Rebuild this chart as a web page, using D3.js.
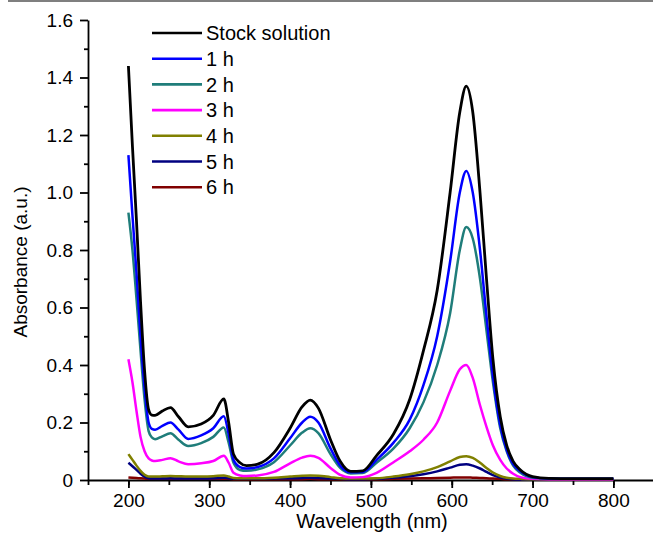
<!DOCTYPE html>
<html>
<head>
<meta charset="utf-8">
<script src="https://cdn.jsdelivr.net/npm/d3@7"></script>
<style>
  body { margin: 0; background: #fff; }
  svg { display: block; font-family: "Liberation Sans", Arial, sans-serif; }
  .axis path, .axis line { stroke: #000; stroke-width: 1.8; }
  .axis text { font-size: 19px; fill: #000; }
</style>
</head>
<body>
<svg id="chart" width="653" height="533"></svg>
<script>
// wavelength grid (nm)
let wavelength = [200, 205, 210, 215, 220, 225, 229, 233, 242, 252, 262, 274, 290, 305, 318, 324, 330, 338, 346, 360,
  380, 400, 415, 425, 435, 450, 462, 475, 490, 507, 528, 548, 565, 582, 598, 610, 618, 626, 635, 643,
  651, 660, 668, 676, 685, 700, 720, 750, 800]

let stock = [1.44, 1.16, 0.90, 0.62, 0.38, 0.245, 0.226, 0.225, 0.24, 0.252, 0.22, 0.185, 0.195, 0.225, 0.282, 0.20, 0.09, 0.06, 0.05, 0.055,
  0.095, 0.18, 0.255, 0.278, 0.25, 0.14, 0.065, 0.03, 0.032, 0.085, 0.16, 0.28, 0.45, 0.66, 1.00, 1.28, 1.37, 1.28, 1.00, 0.70,
  0.42, 0.22, 0.12, 0.065, 0.035, 0.012, 0.006, 0.005, 0.005]

let h1 = [1.13, 0.92, 0.72, 0.50, 0.32, 0.20, 0.178, 0.175, 0.188, 0.20, 0.175, 0.143, 0.155, 0.18, 0.222, 0.16, 0.07, 0.045, 0.04, 0.045,
  0.075, 0.145, 0.20, 0.22, 0.20, 0.11, 0.05, 0.027, 0.028, 0.07, 0.13, 0.21, 0.33, 0.50, 0.76, 1.00, 1.075, 1.00, 0.80, 0.57,
  0.36, 0.19, 0.105, 0.055, 0.03, 0.01, 0.005, 0.004, 0.004]

let h2 = [0.93, 0.80, 0.63, 0.45, 0.28, 0.17, 0.148, 0.142, 0.152, 0.163, 0.14, 0.118, 0.128, 0.15, 0.183, 0.13, 0.06, 0.035, 0.032, 0.037,
  0.062, 0.12, 0.165, 0.18, 0.163, 0.09, 0.042, 0.023, 0.024, 0.06, 0.11, 0.18, 0.27, 0.40, 0.58, 0.80, 0.88, 0.84, 0.70, 0.52,
  0.34, 0.18, 0.10, 0.05, 0.025, 0.008, 0.005, 0.004, 0.004]

let h3 = [0.42, 0.34, 0.24, 0.15, 0.10, 0.075, 0.068, 0.066, 0.07, 0.076, 0.065, 0.055, 0.058, 0.066, 0.084, 0.06, 0.025, 0.016, 0.014, 0.016,
  0.028, 0.058, 0.078, 0.084, 0.077, 0.042, 0.018, 0.009, 0.01, 0.025, 0.062, 0.10, 0.14, 0.20, 0.31, 0.385, 0.40, 0.355, 0.26, 0.185,
  0.12, 0.07, 0.04, 0.022, 0.01, 0.004, 0.003, 0.003, 0.003]

let h4 = [0.09, 0.07, 0.05, 0.032, 0.018, 0.012, 0.012, 0.012, 0.013, 0.014, 0.013, 0.012, 0.012, 0.013, 0.016, 0.012, 0.007, 0.006, 0.006, 0.006,
  0.008, 0.012, 0.015, 0.016, 0.015, 0.01, 0.006, 0.005, 0.005, 0.006, 0.012, 0.02, 0.03, 0.045, 0.065, 0.08, 0.083, 0.077, 0.06, 0.042,
  0.026, 0.014, 0.008, 0.005, 0.004, 0.003, 0.003, 0.003, 0.003]

let h5 = [0.06, 0.048, 0.035, 0.022, 0.012, 0.006, 0.005, 0.005, 0.005, 0.006, 0.005, 0.005, 0.005, 0.006, 0.008, 0.006, 0.004, 0.004, 0.004, 0.004,
  0.005, 0.006, 0.007, 0.008, 0.007, 0.005, 0.004, 0.003, 0.003, 0.004, 0.008, 0.013, 0.02, 0.03, 0.043, 0.053, 0.055, 0.05, 0.04, 0.028,
  0.017, 0.009, 0.005, 0.003, 0.002, 0.002, 0.002, 0.002, 0.002]

let h6 = [0.009, 0.008, 0.007, 0.006, 0.005, 0.004, 0.004, 0.004, 0.004, 0.004, 0.004, 0.004, 0.004, 0.004, 0.004, 0.004, 0.003, 0.003, 0.003, 0.003,
  0.003, 0.003, 0.003, 0.004, 0.003, 0.003, 0.003, 0.003, 0.003, 0.003, 0.004, 0.005, 0.006, 0.007, 0.008, 0.009, 0.009, 0.008, 0.007, 0.006,
  0.005, 0.004, 0.003, 0.003, 0.003, 0.003, 0.003, 0.003, 0.003]

let names = ["Stock solution", "1 h", "2 h", "3 h", "4 h", "5 h", "6 h"]
let colors = ["#000000", "#0000ff", "#1f7d7a", "#ff00ff", "#808000", "#000080", "#800000"]
let series = [stock, h1, h2, h3, h4, h5, h6]

let x_ticks = [200, 300, 400, 500, 600, 700, 800]
let y_ticks = [0, 0.2, 0.4, 0.6, 0.8, 1.0, 1.2, 1.4, 1.6]

let width = 653,
    height = 533,
    margins = {top: 20, bottom: 53, left: 88, right: 0}

let svg = d3.select("#chart")

// thin grey rule across the top of the figure
svg.append("line")
  .attr("x1", 8).attr("x2", width)
  .attr("y1", 1).attr("y2", 1)
  .attr("stroke", "#555").attr("stroke-width", 1.5)

let x = d3.scaleLinear()
  .domain([150, 849])
  .range([margins.left, width - margins.right])
let y = d3.scaleLinear()
  .domain([0, 1.6])
  .range([height - margins.bottom, margins.top])

// minor ticks
svg.append("g")
  .attr("class", "axis")
  .attr("transform", `translate(0,${height - margins.bottom})`)
  .call(d3.axisBottom(x).tickValues(d3.range(150, 851, 50)).tickSize(5).tickFormat(""))
  .select(".domain").remove()
svg.append("g")
  .attr("class", "axis")
  .attr("transform", `translate(${margins.left},0)`)
  .call(d3.axisLeft(y).tickValues(d3.range(1, 16, 2).map(d => d / 10)).tickSize(4).tickFormat(""))
  .select(".domain").remove()

// major axes
svg.append("g")
  .attr("class", "axis")
  .attr("transform", `translate(0,${height - margins.bottom})`)
  .call(d3.axisBottom(x).tickValues(x_ticks).tickSize(8).tickSizeOuter(0).tickPadding(6))
svg.append("g")
  .attr("class", "axis")
  .attr("transform", `translate(${margins.left},0)`)
  .call(d3.axisLeft(y).tickValues(y_ticks).tickSize(8).tickSizeOuter(0).tickPadding(7)
    .tickFormat(d => d === 0 ? "0" : d3.format(".1f")(d)))

// curves
let path_generator = d3.line()
  .x((d, i) => x(wavelength[i]))
  .y(d => y(d))
  .curve(d3.curveMonotoneX)

let order = [6, 5, 4, 3, 2, 1, 0]
svg.append("g")
  .selectAll("path")
  .data(order).enter()
  .append("path")
  .attr("d", i => path_generator(series[i]))
  .attr("fill", "none")
  .attr("stroke", i => colors[i])
  .attr("stroke-width", i => i === 0 ? 2.8 : 2.5)
  .attr("stroke-linejoin", "round")

// legend
let legend = svg.append("g").attr("transform", "translate(152,33)")
let rows = legend.selectAll("g")
  .data(names).enter()
  .append("g")
  .attr("transform", (d, i) => `translate(0,${i * 25.7})`)
rows.append("line")
  .attr("x1", 0).attr("x2", 50)
  .attr("stroke", (d, i) => colors[i])
  .attr("stroke-width", 2.6)
rows.append("text")
  .attr("x", 54).attr("dy", "0.36em")
  .attr("font-size", 20)
  .text(d => d)

// axis titles
svg.append("text")
  .attr("x", 372).attr("y", 528)
  .attr("text-anchor", "middle")
  .attr("font-size", 20)
  .text("Wavelength (nm)")
svg.append("text")
  .attr("transform", "translate(27,262) rotate(-90)")
  .attr("text-anchor", "middle")
  .attr("font-size", 19)
  .text("Absorbance (a.u.)")
</script>
</body>
</html>
